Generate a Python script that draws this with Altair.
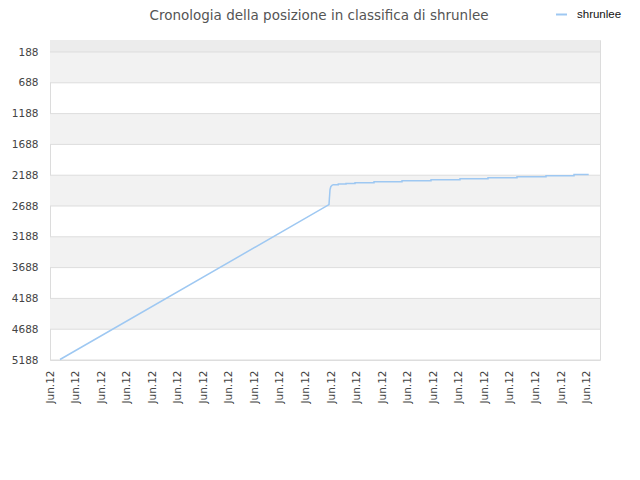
import altair as alt
import pandas as pd

# ---- data ----
series_name = "shrunlee"
# time position (plot-x units) and rank
t_vals = [10, 279, 280, 280.8, 282, 283.3, 288.3, 288.3, 296, 296, 305, 305, 324, 324,
          352, 352, 381, 381, 410, 410, 438, 438, 467, 467, 496, 496, 524, 524, 538.7]
rank_vals = [5180, 2666, 2423, 2375, 2352, 2342, 2342, 2330, 2330, 2321, 2321, 2309, 2309, 2293,
             2293, 2277, 2277, 2261, 2261, 2244, 2244, 2228, 2228, 2212, 2212, 2196, 2196, 2175, 2175]

y_ticks = [188, 688, 1188, 1688, 2188, 2688, 3188, 3688, 4188, 4688, 5188]
x_ticks = [0, 25.55, 51.1, 76.65, 102.2, 127.75, 153.3, 178.85, 204.4, 229.95, 255.5,
           281.05, 306.6, 332.15, 357.7, 383.25, 408.8, 434.35, 459.9, 485.45, 511, 536.55]
x_label = "Jun.12"

band_lo = [-7, 188, 1188, 2188, 3188, 4188]
band_hi = [188, 688, 1688, 2688, 3688, 4688]
band_col = ["#ececec", "#f2f2f2", "#f2f2f2", "#f2f2f2", "#f2f2f2", "#f2f2f2"]

title_text = "Cronologia della posizione in classifica di shrunlee"
line_color = "#9ec8f2"

line_df = pd.DataFrame({"t": t_vals, "rank": rank_vals, "series": series_name})
band_df = pd.DataFrame({"lo": band_lo, "hi": band_hi, "col": band_col})
grid_df = pd.DataFrame({"v": y_ticks})
title_df = pd.DataFrame({"txt": [title_text]})

W, H = 550, 320
yscale = alt.Scale(domain=[-7, 5188], reverse=True, nice=False, zero=False)
xscale = alt.Scale(domain=[0, 550], nice=False, zero=False)

yaxis = alt.Axis(values=y_ticks, format="d", ticks=False, domain=False, grid=False,
                 labelPadding=12, labelFont="DejaVu Sans", labelFontSize=10.5,
                 labelColor="#444444")
xaxis = alt.Axis(values=x_ticks, labelExpr=f"'{x_label}'", labelAngle=270,
                 labelAlign="right", labelBaseline="middle", labelPadding=10,
                 ticks=False, domain=False, grid=False,
                 labelFont="DejaVu Sans", labelFontSize=10.5, labelColor="#444444")

bands = alt.Chart(band_df).mark_rect().encode(
    x=alt.value(0), x2=alt.value(W),
    y=alt.Y("lo:Q", scale=yscale, axis=yaxis, title=None),
    y2="hi:Q",
    fill=alt.Fill("col:N", scale=None, legend=None),
)

grid = alt.Chart(grid_df).mark_rule(color="#dddddd", strokeWidth=1).encode(
    x=alt.value(0), x2=alt.value(W),
    y=alt.Y("v:Q", scale=yscale, axis=yaxis, title=None),
)

line = alt.Chart(line_df).mark_line(strokeWidth=1.5, interpolate="linear").encode(
    x=alt.X("t:Q", scale=xscale, title=None, axis=xaxis),
    y=alt.Y("rank:Q", scale=yscale, title=None, axis=yaxis),
    color=alt.Color("series:N", scale=alt.Scale(range=[line_color]),
                    legend=alt.Legend(orient="none", legendX=505, legendY=-32, title=None,
                                      symbolType="stroke", symbolStrokeWidth=2, symbolSize=120,
                                      labelOffset=9,
                                      labelFont="Liberation Sans", labelFontSize=11.5,
                                      labelColor="#111111")),
)

title = alt.Chart(title_df).mark_text(
    font="DejaVu Sans", fontSize=13.5, color="#555555", align="center", baseline="alphabetic"
).encode(text="txt:N", x=alt.value(269), y=alt.value(-20))

chart = alt.layer(bands, grid, line, title).properties(
    width=W, height=H,
    autosize=alt.AutoSizeParams(type="none"),
    padding={"left": 42, "top": 32, "right": 30, "bottom": 100},
).configure_view(stroke="#dcdcdc", strokeWidth=1)

chart.save("out.html", embed_options={"renderer": "svg", "actions": False})
